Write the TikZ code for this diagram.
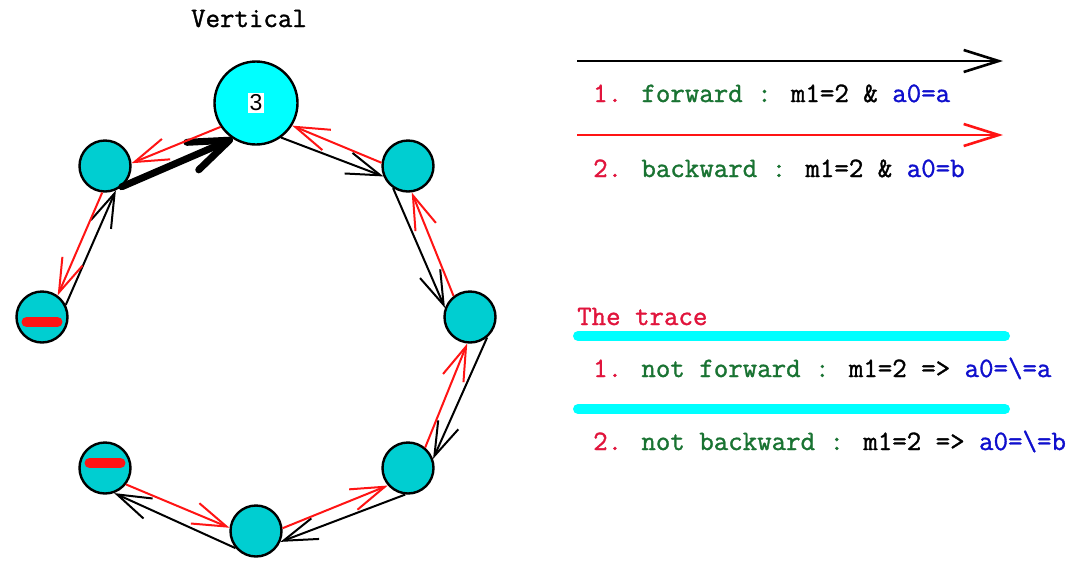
\documentclass[tikz,border=0pt]{standalone}
\usepackage{fontspec}
\newfontfamily\arl{Liberation Sans}
\newfontfamily\cour{Latin Modern Mono}[FakeBold=1.2]
\usetikzlibrary{arrows.meta}
\definecolor{bigcyan}{RGB}{0,255,255}
\definecolor{turq}{RGB}{0,206,209}
\definecolor{numred}{RGB}{225,20,60}
\definecolor{edgered}{RGB}{255,20,20}
\definecolor{lgreen}{RGB}{25,115,50}
\definecolor{lblue}{RGB}{15,15,205}
\begin{document}
\begin{tikzpicture}[x=1pt,y=-1pt,
  vtx/.style={circle,draw=black,line width=2.4pt,fill=turq,minimum size=51pt,inner sep=0pt},
  bigvtx/.style={circle,draw=black,line width=2.4pt,fill=bigcyan,minimum size=83pt,inner sep=0pt},
  fw/.style={draw=black,line width=2pt,-{Straight Barb[length=34pt,width=22pt]}},
  fwthick/.style={draw=black,line width=7pt,line cap=round,-{Straight Barb[length=40pt,width=30pt,round]}},
  bw/.style={draw=edgered,line width=2pt,-{Straight Barb[length=34pt,width=22pt]}},
  legarrow/.style={line width=2.6pt,-{Straight Barb[length=35pt,width=22pt]}},
  bar/.style={draw=edgered,line width=10pt,line cap=round},
  cyanbar/.style={draw=bigcyan,line width=10pt,line cap=round},
  txt/.style={anchor=base west,inner sep=0pt,font=\cour\fontsize{28.1pt}{32pt}\selectfont}
]
\useasboundingbox[fill=white] (0,0) rectangle (1089,566);

% vertices
\node[bigvtx] (T) at (256,103) {};
\node[fill=white,inner sep=1.8pt,font=\arl\fontsize{23pt}{25pt}\selectfont] (Tlab) at (T.center) {3};
\node[vtx] (UL) at (105,166) {};
\node[vtx] (UR) at (408,166) {};
\node[vtx] (LM) at (42,317) {};
\node[vtx] (RM) at (470,317) {};
\node[vtx] (LL) at (105,468) {};
\node[vtx] (LR) at (408,468) {};
\node[vtx] (B) at (256,531) {};

% red bars
\draw[bar] ([xshift=-15.5pt,yshift=-5pt]LM.center) -- ([xshift=15.5pt,yshift=-5pt]LM.center);
\draw[bar] ([xshift=-15.5pt,yshift=5pt]LL.center) -- ([xshift=15.5pt,yshift=5pt]LL.center);

% forward (black) edges
\draw[fwthick] (UL.-51) -- (T.237);
\draw[fw] (T.-54) -- (UR.203);
\draw[fw] (UR.236) -- (RM.160);
\draw[fw] (RM.-50) -- (LR.20);
\draw[fw] (LR.264) -- (B.-24);
\draw[fw] (B.220) -- (LL.-70);
\draw[fw] (LM.27) -- (UL.-66);

% backward (red) edges
\draw[bw] (T.214) -- (UL.6);
\draw[bw] (UR.173) -- (T.-32);
\draw[bw] (RM.128) -- (UR.-82);
\draw[bw] (LR.50) -- (RM.264);
\draw[bw] (B.6) -- (LR.221);
\draw[bw] (LL.-38) -- (B.173);
\draw[bw] (UL.264) -- (LM.54);

% title
\node[txt,anchor=base] (title) at (249,27) {Vertical};

% legend
\coordinate (k1a) at (577,61);
\coordinate (k1b) at (1003,61);
\coordinate (k2a) at (577,135);
\coordinate (k2b) at (1003,135);
\draw[legarrow,draw=black] (k1a) -- (k1b);
\draw[legarrow,draw=edgered] (k2a) -- (k2b);
\node[txt] (l1) at (593,102) {\textcolor{numred}{1.} \textcolor{lgreen}{forward :} m1=2 \& \textcolor{lblue}{a0=a}};
\node[txt] (l2) at (593,177) {\textcolor{numred}{2.} \textcolor{lgreen}{backward :} m1=2 \& \textcolor{lblue}{a0=b}};

\node[txt,text=numred] (trace) at (577,325) {The trace};
\coordinate (c1a) at (578,336);
\coordinate (c1b) at (1005,336);
\coordinate (c2a) at (578,409);
\coordinate (c2b) at (1005,409);
\draw[cyanbar] (c1a) -- (c1b);
\draw[cyanbar] (c2a) -- (c2b);
\node[txt] (t1) at (593,377) {\textcolor{numred}{1.} \textcolor{lgreen}{not forward :} m1=2 => \textcolor{lblue}{a0=\textbackslash=a}};
\node[txt] (t2) at (593,450) {\textcolor{numred}{2.} \textcolor{lgreen}{not backward :} m1=2 => \textcolor{lblue}{a0=\textbackslash=b}};
\end{tikzpicture}
\end{document}
